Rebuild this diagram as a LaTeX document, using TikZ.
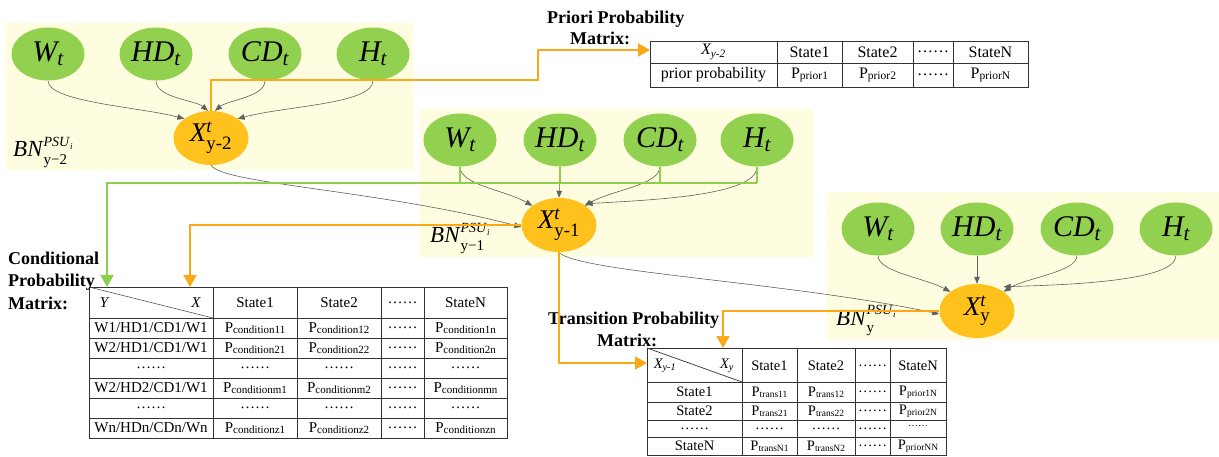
\documentclass[tikz,border=0pt]{standalone}
\usepackage{amsmath}
\usepackage{fontspec}
\setmainfont{Liberation Serif}
\usetikzlibrary{arrows.meta,positioning,shapes.geometric}

\definecolor{bnback}{HTML}{FFFDE0}
\definecolor{leafgreen}{HTML}{92D050}
\definecolor{stategold}{HTML}{FFC21C}
\definecolor{flowline}{HTML}{FBA919}
\definecolor{busgreen}{HTML}{8CCF4D}
\definecolor{linkgray}{HTML}{606060}

% variable and state symbols
\newcommand{\var}[2]{$\mathit{#1}_{\mathit{#2}}$}
\newcommand{\stx}[1]{$\mathit{X}^{\mathit{t}}_{\text{#1}}$}
\newcommand{\bnlab}[1]{\textit{BN}\makebox[0pt][l]{\raisebox{10pt}{\fontsize{14}{14}\selectfont\textit{PSU}\raisebox{-2.5pt}{\fontsize{9}{9}\selectfont\textit{i}}}}\raisebox{-8pt}{\fontsize{15}{15}\selectfont #1}}
\newcommand{\pv}[2]{P{\fontsize{#1}{#1}\selectfont\raisebox{-1pt}{#2}}}

\begin{document}
\begin{tikzpicture}[x=1pt,y=-1pt,
  bnbox/.style={fill=bnback,draw=none},
  leaf/.style={ellipse,fill=leafgreen,draw=none,minimum width=73pt,minimum height=53pt,inner sep=0pt,font=\fontsize{30}{32}\selectfont},
  target/.style={ellipse,fill=stategold,draw=none,minimum width=75pt,minimum height=54pt,inner sep=0pt,font=\fontsize{27}{29}\selectfont},
  bnname/.style={inner sep=0pt,anchor=base west,font=\fontsize{23}{25}\selectfont},
  link/.style={draw=linkgray,line width=0.6pt,-{Triangle[length=7pt,width=5.5pt]}},
  flow/.style={draw=flowline,line width=2pt,-{Triangle[length=12pt,width=13pt]}},
  bus/.style={draw=busgreen,line width=2pt},
  busarrow/.style={bus,-{Triangle[length=12pt,width=13pt]}},
  grid/.style={draw=black!80,line width=0.8pt},
  pcell/.style={inner sep=0pt,font=\fontsize{16}{18}\selectfont},
  cell/.style={inner sep=0pt,font=\fontsize{15}{17}\selectfont},
  tcell/.style={inner sep=0pt,font=\fontsize{14.5}{16}\selectfont},
  title/.style={inner sep=0pt,anchor=base west,font=\fontsize{18}{20}\selectfont\bfseries},
  outline/.style={draw=black!80,line width=1pt,inner sep=0pt}
]
\useasboundingbox (0,0) rectangle (1219,457);

% ---------- Bayesian network panels ----------
\fill[bnbox] (5,23) rectangle (413,170);
\fill[bnbox] (420,109) rectangle (813,257);
\fill[bnbox] (827,192) rectangle (1219,340);

% panel y-2
\node[leaf] (w1) at (48,54) {\var{W}{t}};
\node[leaf] (hd1) at (156,54) {\var{HD}{t}};
\node[leaf] (cd1) at (265,54) {\var{CD}{t}};
\node[leaf] (h1) at (373,54) {\var{H}{t}};
\node[target] (x1) at (211,138) {\stx{y-2}};
\node[bnname] (bn1) at (13,157) {\bnlab{y−2}};

% panel y-1
\node[leaf] (w2) at (460,140) {\var{W}{t}};
\node[leaf] (hd2) at (560,140) {\var{HD}{t}};
\node[leaf] (cd2) at (660,140) {\var{CD}{t}};
\node[leaf] (h2) at (757,140) {\var{H}{t}};
\node[target] (x2) at (559,225) {\stx{y-1}};
\node[bnname] (bn2) at (430,243) {\bnlab{y−1}};

% panel y
\node[leaf] (w3) at (878,229) {\var{W}{t}};
\node[leaf] (hd3) at (977,229) {\var{HD}{t}};
\node[leaf] (cd3) at (1077,229) {\var{CD}{t}};
\node[leaf] (h3) at (1176,229) {\var{H}{t}};
\node[target] (x3) at (977,311) {\stx{y}};
\node[bnname] (bn3) at (836,325) {\bnlab{y}};

% ---------- dependency arcs ----------
\draw[link] (w1.south) .. controls (48,102) and (140,107) .. (x1.north west);
\draw[link] (hd1.south) .. controls (156,98) and (195,100) .. ([xshift=-3pt]x1.north);
\draw[link] (cd1.south) .. controls (265,97) and (228,100) .. ([xshift=4pt]x1.north);
\draw[link] (h1.south) .. controls (373,104) and (285,106) .. (x1.north east);

\draw[link] (w2.south) .. controls (460,185) and (505,190) .. (x2.north west);
\draw[link] (hd2.south) -- (x2.north);
\draw[link] (cd2.south) .. controls (660,185) and (612,190) .. ([xshift=-1pt]x2.north east);
\draw[link] (h2.south) .. controls (757,196) and (650,200) .. ([yshift=2pt]x2.north east);

\draw[link] (w3.south) .. controls (878,272) and (925,278) .. (x3.north west);
\draw[link] (hd3.south) -- (x3.north);
\draw[link] (cd3.south) .. controls (1077,272) and (1025,278) .. (x3.north east);
\draw[link] (h3.south) .. controls (1176,282) and (1060,285) .. ([yshift=5pt]x3.north east);

% temporal links between successive states
\draw[link] (x1.south) .. controls (222,184) and (380,190) .. ([yshift=-2pt]x2.west);
\draw[link] (x2.south) .. controls (575,272) and (790,282) .. ([yshift=-3pt]x3.west);

% ---------- probability tables ----------
% prior table
\node[outline,minimum width=378pt,minimum height=46pt,anchor=north west] (prior) at (650,41) {};
\draw[grid] (650,63) -- (1028,63);
\foreach \cx in {777,842,913,953} \draw[grid] (\cx,41) -- (\cx,87);
\node[pcell] (pa) at (713.5,52) {$\mathit{X}_{\mathit{y\text{-}2}}$};
\node[pcell] (pb) at (809.5,52) {State1};
\node[pcell] (pc) at (877.5,52) {State2};
\node[pcell] (pd) at (933,52) {……};
\node[pcell] (pe) at (990.5,52) {StateN};
\node[pcell] (pf) at (713.5,75) {prior probability};
\node[pcell] (pg) at (809.5,75) {\pv{11.5}{prior1}};
\node[pcell] (ph) at (877.5,75) {\pv{11.5}{prior2}};
\node[pcell] (pi) at (933,75) {……};
\node[pcell] (pj) at (990.5,75) {\pv{11.5}{priorN}};
\node[title] (ptitle1) at (547,24) {Priori Probability};
\node[title] (ptitle2) at (570,45) {Matrix:};

% conditional table
\node[outline,minimum width=418pt,minimum height=151pt,anchor=north west] (cond) at (89,287) {};
\draw[line width=0.5pt,black!70] (89,287) -- (213,318);
\foreach \ry in {318,338,358,378,398,418} \draw[grid] (89,\ry) -- (507,\ry);
\foreach \cx in {213,297,381,424} \draw[grid] (\cx,287) -- (\cx,438);
\node[cell] (cy) at (104,303) {$\mathit{Y}$};
\node[cell] (cx) at (196,303) {$\mathit{X}$};
\node[cell] (c01) at (255,303) {State1};
\node[cell] (c02) at (339,303) {State2};
\node[cell] (c03) at (402.5,303) {……};
\node[cell] (c04) at (465.5,303) {StateN};
\foreach \ry/\rl/\ra/\rb/\rn in {
  328/W1\slash HD1\slash CD1\slash W1/condition11/condition12/condition1n,
  348/W2\slash HD1\slash CD1\slash W1/condition21/condition22/condition2n,
  388/W2\slash HD2\slash CD1\slash W1/conditionm1/conditionm2/conditionmn,
  428/Wn\slash HDn\slash CDn\slash Wn/conditionz1/conditionz2/conditionzn}{
  \node[cell] at (151,\ry) {\rl};
  \node[cell] at (255,\ry) {\pv{11}{\ra}};
  \node[cell] at (339,\ry) {\pv{11}{\rb}};
  \node[cell] at (402.5,\ry) {……};
  \node[cell] at (465.5,\ry) {\pv{11}{\rn}};
}
\foreach \ry in {368,408}{
  \foreach \cx in {151,255,339,402.5,465.5} \node[cell] at (\cx,\ry) {……};
}
\node[title] (ctitle1) at (8,265) {Conditional};
\node[title] (ctitle2) at (8,287) {Probability};
\node[title] (ctitle3) at (8,309) {Matrix:};

% transition table
\node[outline,minimum width=299pt,minimum height=107pt,anchor=north west] (trans) at (647,348) {};
\draw[line width=0.7pt,black!80] (647,348) -- (742,382);
\foreach \ry in {382,402,420,437} \draw[grid] (647,\ry) -- (946,\ry);
\foreach \cx in {742,797,855,890} \draw[grid] (\cx,348) -- (\cx,455);
\node[tcell] (ta) at (665,366) {$\mathit{X}_{\mathit{y\text{-}1}}$};
\node[tcell] (tb) at (727,366) {$\mathit{X}_{\mathit{y}}$};
\node[tcell] (t01) at (769.5,366) {State1};
\node[tcell] (t02) at (826,366) {State2};
\node[tcell] (t03) at (872.5,366) {……};
\node[tcell] (t04) at (918,366) {StateN};
\foreach \ry/\rl/\ra/\rb/\rn in {
  392/State1/trans11/trans12/prior1N,
  411/State2/trans21/trans22/prior2N,
  446/StateN/transN1/transN2/priorNN}{
  \node[tcell] at (694.5,\ry) {\rl};
  \node[tcell] at (769.5,\ry) {\pv{9.5}{\ra}};
  \node[tcell] at (826,\ry) {\pv{9.5}{\rb}};
  \node[tcell] at (872.5,\ry) {……};
  \node[tcell] at (918,\ry) {\pv{9.5}{\rn}};
}
\foreach \cx in {694.5,769.5,826,872.5} \node[tcell] at (\cx,428.5) {……};
\node[tcell,font=\fontsize{10}{10}\selectfont] at (918,426) {……};
\node[title] (ttitle1) at (548,324) {Transition Probability};
\node[title] (ttitle2) at (597,346) {Matrix:};

% ---------- data flow to the tables ----------
\coordinate (b1) at (211,80);
\coordinate (b2) at (538,80);
\coordinate (b3) at (538,50);
\draw[flow] (x1.north) -- (b1) -- (b2) -- (b3) -- (prior.west |- b3);

\coordinate (gbus) at (107,183);
\draw[bus] (w2.south) -- (w2.south |- gbus);
\draw[bus] (hd2.south) -- (hd2.south |- gbus);
\draw[bus] (cd2.south) -- (cd2.south |- gbus);
\draw[bus] (h2.south) -- (h2.south |- gbus);
\draw[busarrow] (h2.south |- gbus) -- (gbus) -- (gbus |- cond.north);

\coordinate (o1) at (190,225);
\draw[flow] (x2.west) -- (o1) -- (o1 |- cond.north);

\coordinate (o2) at (559,363);
\draw[flow] (x2.south) -- (o2) -- (trans.west |- o2);

\coordinate (o3) at (723,311);
\draw[flow] (x3.west) -- (o3) -- (o3 |- trans.north);
\end{tikzpicture}
\end{document}
